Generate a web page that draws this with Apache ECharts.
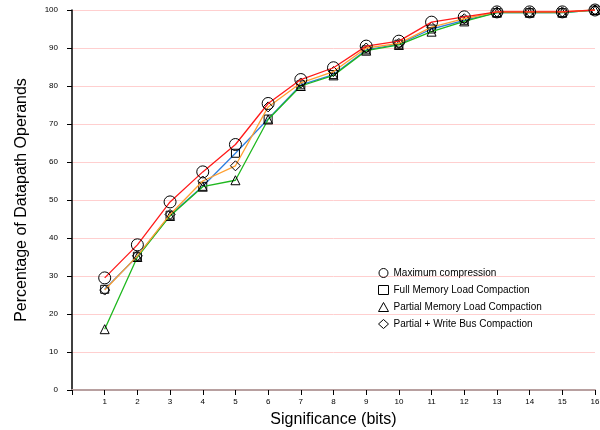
<!DOCTYPE html>
<html><head><meta charset="utf-8">
<script src="https://cdn.jsdelivr.net/npm/echarts@6/dist/echarts.min.js"></script>
<style>html,body{margin:0;padding:0;background:#fff}#c{width:600px;height:430px}</style>
</head><body><div id="c"></div>
<script>
const bits = [1,2,3,4,5,6,7,8,9,10,11,12,13,14,15,16];
const maxCompression = [29.5,38.2,49.5,57.4,64.6,75.4,81.7,84.8,90.5,91.8,96.8,98.2,99.5,99.5,99.5,100];
const fullMemLoad = [26.5,35.2,46.0,53.6,62.3,71.3,80.3,83.0,89.5,91.0,95.0,97.3,99.3,99.3,99.3,100];
const partialMemLoad = [16.0,35.0,45.8,53.5,55.2,71.2,80.0,82.8,89.3,90.8,94.3,97.0,99.3,99.3,99.3,100];
const partialWriteBus = [26.3,35.3,46.2,55.0,59.0,74.5,80.8,83.8,90.0,91.2,95.5,97.7,99.5,99.5,99.5,100];
const names = ['Maximum compression','Full Memory Load Compaction','Partial Memory Load Compaction','Partial + Write Bus Compaction'];
const yTicks = [0,10,20,30,40,50,60,70,80,90,100];

const font = 'Liberation Sans, Arial, sans-serif';
const pairs = (ys) => bits.map((b,i)=>[b, ys[i]]);
const markerStyle = {color:'rgba(255,255,255,0)', borderColor:'#000', borderWidth:1};
function mk(name, data, color, symbol, size, z){
  return {name, type:'line', data:pairs(data), symbol, symbolSize:size, z,
    lineStyle:{color, width:1.3}, itemStyle:markerStyle, emphasis:{disabled:true}, animation:false};
}
const chart = echarts.init(document.getElementById('c'), null, {renderer:'canvas'});
chart.setOption({
  animation:false,
  grid:{left:72, right:5, top:10, bottom:40, outerBoundsMode:'none', containLabel:false},
  legend:{
    orient:'vertical', left:373, top:263, itemGap:7, itemWidth:10, itemHeight:9,
    textStyle:{fontFamily:font, fontSize:10, color:'#000', padding:[0,0,0,0]},
    data:[
      {name:names[0], icon:'circle'},
      {name:names[1], icon:'rect'},
      {name:names[2], icon:'triangle'},
      {name:names[3], icon:'diamond'}
    ].map(d=>Object.assign(d,{itemStyle:{color:'rgba(255,255,255,0)', borderColor:'#000', borderWidth:1}})),
    selectedMode:false
  },
  xAxis:{type:'value', min:0, max:16, interval:1,
    name:'Significance (bits)', nameLocation:'middle', nameGap:22,
    nameTextStyle:{fontFamily:font, fontSize:16, color:'#000'},
    axisLine:{lineStyle:{color:'#b8a0a0', width:2}},
    axisTick:{show:true, length:5, lineStyle:{color:'#000'}},
    axisLabel:{fontFamily:font, fontSize:8, color:'#000', margin:8, formatter:v=>v===0?'':String(v)},
    splitLine:{show:false}
  },
  yAxis:{type:'value', min:0, max:100, interval:10,
    name:'Percentage of Datapath Operands', nameLocation:'middle', nameGap:42,
    nameTextStyle:{fontFamily:font, fontSize:16, color:'#000'},
    axisLine:{show:true, lineStyle:{color:'#000', width:1.5}},
    axisTick:{show:true, length:5, lineStyle:{color:'#000'}},
    axisLabel:{fontFamily:font, fontSize:8, color:'#000', margin:14,
      customValues: yTicks, formatter:v=>String(v)},
    splitLine:{show:true, lineStyle:{color:'#ffcfcf', width:1}}
  },
  series:[
    mk(names[1], fullMemLoad, '#2f7fe0', 'rect', 8, 2),
    mk(names[2], partialMemLoad, '#1fb81f', 'triangle', 9, 3),
    mk(names[3], partialWriteBus, '#ffa030', 'diamond', 10, 4),
    mk(names[0], maxCompression, '#ff1a1a', 'circle', 12, 5)
  ]
});
</script></body></html>
